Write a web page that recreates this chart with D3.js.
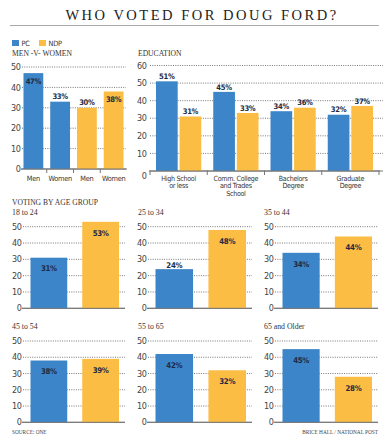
<!DOCTYPE html>
<html><head><meta charset="utf-8">
<script src="https://cdn.jsdelivr.net/npm/d3@7"></script>
<style>
html,body{margin:0;padding:0;background:#fff;}
svg{display:block;}
.cond{font-family:"Liberation Sans Narrow","DejaVu Sans Condensed","Roboto Condensed","Arial Narrow","Liberation Sans",sans-serif;font-stretch:condensed;}
.serif{font-family:"Liberation Serif","DejaVu Serif",serif;}
</style></head>
<body>
<svg id="c" width="390" height="443"></svg>
<script>
// ---- data ----
const parties = ["PC", "NDP"];
const partyColors = ["#3d85c9", "#fbbd43"];
const genderGroups = ["Men", "Women"];
const pcGender = [47, 33];
const ndpGender = [30, 38];
const genderTicks = [0, 10, 20, 30, 40, 50];

const eduCats = ["High School\nor less", "Comm. College\nand Trades\nSchool", "Bachelors\nDegree", "Graduate\nDegree"];
const pcEdu = [51, 45, 34, 32];
const ndpEdu = [31, 33, 36, 37];
const eduTicks = [0, 10, 20, 30, 40, 50, 60];

const ageGroups = ["18 to 24", "25 to 34", "35 to 44", "45 to 54", "55 to 65", "65 and Older"];
const pcAge = [31, 24, 34, 38, 42, 45];
const ndpAge = [53, 48, 44, 39, 32, 28];
const ageTicks = [0, 10, 20, 30, 40, 50];

const svg = d3.select("#c");
const labelColor = "#1d2a44";

// ---- title ----
svg.append("text").attr("class","serif").attr("x",202).attr("y",20)
  .attr("text-anchor","middle").attr("font-size",14.5).attr("letter-spacing",2.5)
  .attr("fill","#222").text("WHO VOTED FOR DOUG FORD?");
svg.append("line").attr("x1",10).attr("x2",379).attr("y1",25.5).attr("y2",25.5)
  .attr("stroke","#aaa").attr("stroke-width",1);

// ---- legend ----
const lx = [12, 39];
parties.forEach((p,i)=>{
  svg.append("rect").attr("x",lx[i]).attr("y",40).attr("width",7).attr("height",6).attr("fill",partyColors[i]);
  svg.append("text").attr("class","cond").attr("x",lx[i]+9.5).attr("y",43).attr("dy","0.35em")
    .attr("font-size",7.3).attr("letter-spacing",-0.2).attr("fill","#333").text(p);
});

function sectionLabel(x,y,t){
  svg.append("text").attr("class","serif").attr("x",x).attr("y",y).attr("dy","0.35em")
    .attr("font-size",7.6).attr("fill","#333").text(t);
}
sectionLabel(12,53,"MEN -V- WOMEN");
sectionLabel(138,53,"EDUCATION");
sectionLabel(12,202.7,"VOTING BY AGE GROUP");

function gridAndAxis(y, ticks, gx0, gx1, labelX, zeroShift){
  const g = svg.append("g");
  ticks.forEach(t=>{
    if(t===0){
      g.append("line").attr("x1",gx0-1).attr("x2",gx1).attr("y1",y(t)).attr("y2",y(t))
        .attr("stroke","#777").attr("stroke-width",1);
    } else {
      g.append("line").attr("x1",gx0).attr("x2",gx1).attr("y1",y(t)).attr("y2",y(t))
        .attr("stroke","#555").attr("stroke-width",0.8).attr("stroke-dasharray","1,1.3");
    }
    g.append("text").attr("class","cond").attr("x",labelX).attr("y",y(t)+(t===0?zeroShift:0))
      .attr("dy","0.35em").attr("text-anchor","end").attr("font-size",9).attr("letter-spacing",-0.4)
      .attr("fill","#444").text(t);
  });
  return g;
}

// ---- men v women ----
(function(){
  const items = [];
  parties.forEach((p,pi)=>{
    const vals = pi===0 ? pcGender : ndpGender;
    genderGroups.forEach((gname,gi)=>items.push({key:p+"-"+gname, label:gname, party:pi, v:vals[gi]}));
  });
  const x = d3.scaleBand().domain(items.map(d=>d.key)).range([20,127]).paddingInner(0.26).paddingOuter(0.13);
  const y = d3.scaleLinear().domain([0,50]).range([169,67]);
  gridAndAxis(y, genderTicks, 22, 126, 20.5, 0);
  svg.selectAll(".gb").data(items).enter().append("rect")
    .attr("x",d=>x(d.key)).attr("width",x.bandwidth())
    .attr("y",d=>y(d.v)).attr("height",d=>y(0)-y(d.v)).attr("fill",d=>partyColors[d.party]);
  svg.append("line").attr("x1",21).attr("x2",127).attr("y1",y(0)).attr("y2",y(0)).attr("stroke","#777");
  const step = x.step();
  items.slice(0,-1).forEach(d=>{
    const tx = x(d.key)+x.bandwidth()+(step-x.bandwidth())/2;
    svg.append("line").attr("x1",tx).attr("x2",tx).attr("y1",y(0)).attr("y2",y(0)+4).attr("stroke","#777");
  });
  svg.selectAll(".gl").data(items).enter().append("text").attr("class","cond")
    .attr("x",d=>x(d.key)+x.bandwidth()/2)
    .attr("y",d=> (d.v%10>=7) ? y(d.v)+8 : y(d.v)-5)
    .attr("dy","0.35em").attr("text-anchor","middle").attr("font-size",7.6).attr("font-weight","bold")
    .attr("letter-spacing",-0.3).attr("fill",labelColor).text(d=>d.v+"%");
  svg.selectAll(".gx").data(items).enter().append("text").attr("class","cond")
    .attr("x",d=>x(d.key)+x.bandwidth()/2).attr("y",178).attr("dy","0.35em")
    .attr("text-anchor","middle").attr("font-size",7.3).attr("letter-spacing",-0.25).attr("fill","#333").text(d=>d.label);
})();

// ---- education ----
(function(){
  const x = d3.scaleBand().domain(eduCats).range([150,379]);
  const xi = d3.scaleBand().domain(parties).range([6, x.bandwidth()-6]).paddingInner(0.08);
  const y = d3.scaleLinear().domain([0,60]).range([171,65.5]);
  gridAndAxis(y, eduTicks, 150, 383, 146.5, 5);
  const data = [];
  eduCats.forEach((c,i)=>{ data.push({c,p:0,v:pcEdu[i]}); data.push({c,p:1,v:ndpEdu[i]}); });
  svg.selectAll(".eb").data(data).enter().append("rect")
    .attr("x",d=>x(d.c)+xi(parties[d.p])).attr("width",xi.bandwidth())
    .attr("y",d=>y(d.v)).attr("height",d=>y(0)-y(d.v)).attr("fill",d=>partyColors[d.p]);
  svg.append("line").attr("x1",150).attr("x2",379.5).attr("y1",y(0)).attr("y2",y(0)).attr("stroke","#777");
  eduCats.concat([null]).forEach((c,i)=>{
    const tx = c ? x(c) : 379;
    svg.append("line").attr("x1",tx).attr("x2",tx).attr("y1",y(0)-0.5).attr("y2",y(0)+4).attr("stroke","#777");
  });
  svg.selectAll(".el").data(data).enter().append("text").attr("class","cond")
    .attr("x",d=>x(d.c)+xi(parties[d.p])+xi.bandwidth()/2).attr("y",d=>y(d.v)-5)
    .attr("dy","0.35em").attr("text-anchor","middle").attr("font-size",7.6).attr("font-weight","bold")
    .attr("letter-spacing",-0.3).attr("fill",labelColor).text(d=>d.v+"%");
  eduCats.forEach(c=>{
    const t = svg.append("text").attr("class","cond").attr("x",x(c)+x.bandwidth()/2).attr("y",178.3)
      .attr("text-anchor","middle").attr("font-size",7.1).attr("letter-spacing",-0.3).attr("fill","#333");
    c.split("\n").forEach((line,li)=>{
      t.append("tspan").attr("x",x(c)+x.bandwidth()/2).attr("y",178.3+li*7.6).attr("dy","0.35em").text(line);
    });
  });
})();

// ---- age panels ----
const colX0 = [23, 148, 275];
const colX1 = [125, 252, 378];
const rowTop = [226.7, 341];
const rowBase = [308.3, 422.3];
const rowTitle = [212, 326.7];
const colTitleX = [12, 138, 264];
ageGroups.forEach((ag,i)=>{
  const col = i%3, row = Math.floor(i/3);
  const gx0 = colX0[col], gx1 = colX1[col];
  const y = d3.scaleLinear().domain([0,50]).range([rowBase[row], rowTop[row]]);
  const x = d3.scaleBand().domain(parties).range([gx0+7.5, gx1-6]).paddingInner(0.29);
  svg.append("text").attr("class","serif").attr("x",colTitleX[col]).attr("y",rowTitle[row]).attr("dy","0.35em")
    .attr("font-size",7.8).attr("fill","#333").text(ag);
  gridAndAxis(y, ageTicks, gx0, gx1, gx0-1.5, 0);
  const vals = [pcAge[i], ndpAge[i]];
  parties.forEach((p,pi)=>{
    const v = vals[pi];
    svg.append("rect").attr("x",x(p)).attr("width",x.bandwidth()).attr("y",y(v)).attr("height",y(0)-y(v))
      .attr("fill",partyColors[pi]);
    svg.append("text").attr("class","cond").attr("x",x(p)+x.bandwidth()/2)
      .attr("y", v>=26 ? y(v)+11 : y(v)-4).attr("dy","0.35em").attr("text-anchor","middle")
      .attr("font-size",7.8).attr("font-weight","bold").attr("letter-spacing",-0.3)
      .attr("fill",labelColor).text(v+"%");
  });
  svg.append("line").attr("x1",gx0-1).attr("x2",gx1).attr("y1",y(0)).attr("y2",y(0)).attr("stroke","#777");
});

// ---- footer ----
svg.append("text").attr("class","serif").attr("x",12).attr("y",432).attr("dy","0.35em")
  .attr("font-size",5.3).attr("fill","#444").text("SOURCE: ONE");
svg.append("text").attr("class","serif").attr("x",378).attr("y",432).attr("dy","0.35em")
  .attr("text-anchor","end").attr("font-size",5.3).attr("fill","#444").text("BRICE HALL  /  NATIONAL POST");
</script>
</body></html>
